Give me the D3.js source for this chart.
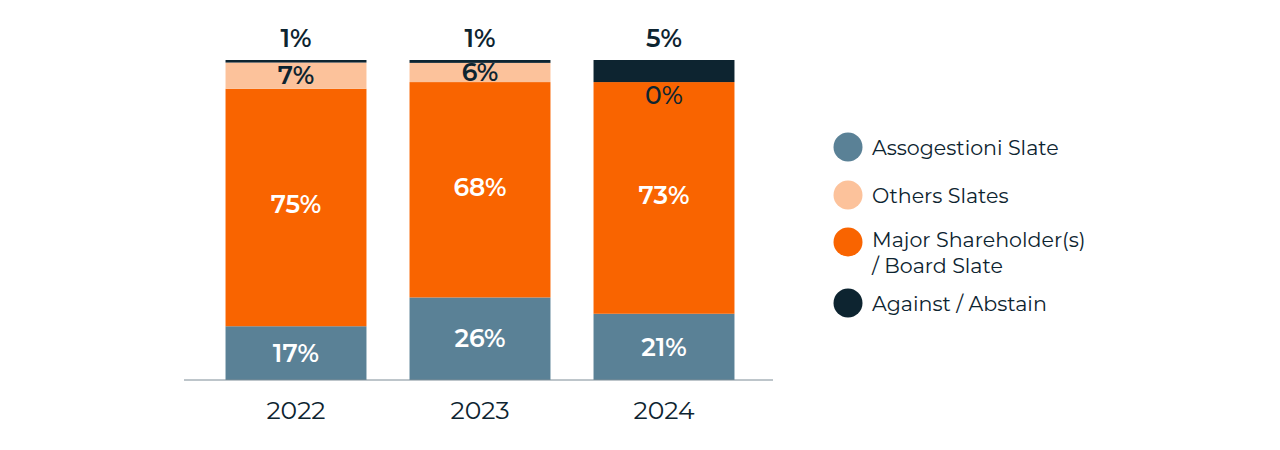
<!DOCTYPE html>
<html><head><meta charset="utf-8">
<script src="https://cdn.jsdelivr.net/npm/d3@7"></script>
<style>
html,body{margin:0;padding:0;background:#fff;}
svg{display:block;font-family:"Montserrat","Open Sans","Noto Sans",sans-serif;}
</style></head>
<body>
<svg id="chart" width="1280" height="450"></svg>
<script>
const years = ["2022", "2023", "2024"];
const seriesNames = ["Assogestioni Slate", "Major Shareholder(s) / Board Slate", "Others Slates", "Against / Abstain"];
const legendOrder = ["Assogestioni Slate", "Others Slates", "Major Shareholder(s) / Board Slate", "Against / Abstain"];
const legendLines = [["Assogestioni Slate"], ["Others Slates"], ["Major Shareholder(s)", "/ Board Slate"], ["Against / Abstain"]];
// bar sizes (share of 100)
const assogestioni = [16.8, 25.8, 20.7];
const majorBoard = [74.2, 67.3, 72.4];
const others = [8.2, 6.0, 0.0];
const against = [0.8, 0.9, 6.9];
// printed labels
const assogestioniLabels = ["17%", "26%", "21%"];
const majorBoardLabels = ["75%", "68%", "73%"];
const othersLabels = ["7%", "6%", "0%"];
const againstLabels = ["1%", "1%", "5%"];

const colors = {
  "Assogestioni Slate": "#5a8196",
  "Others Slates": "#fcc29b",
  "Major Shareholder(s) / Board Slate": "#f96400",
  "Against / Abstain": "#0d2430"
};
const dark = "#0d2430";

const rows = years.map((y, i) => ({
  year: y,
  "Assogestioni Slate": assogestioni[i],
  "Major Shareholder(s) / Board Slate": majorBoard[i],
  "Others Slates": others[i],
  "Against / Abstain": against[i]
}));
const labelMap = {
  "Assogestioni Slate": assogestioniLabels,
  "Major Shareholder(s) / Board Slate": majorBoardLabels,
  "Others Slates": othersLabels,
  "Against / Abstain": againstLabels
};

const svg = d3.select("#chart");
const x = d3.scaleBand().domain(years).range([204, 756]).paddingInner(0.234).paddingOuter(0.117);
const y = d3.scaleLinear().domain([0, 100]).range([380, 60]);

const stack = d3.stack().keys(seriesNames);
const series = stack(rows);

const g = svg.append("g");
series.forEach(s => {
  g.selectAll(null).data(s).enter().append("rect")
    .attr("x", d => x(d.data.year))
    .attr("width", x.bandwidth())
    .attr("y", d => y(d[1]))
    .attr("height", d => Math.max(0, y(d[0]) - y(d[1])))
    .attr("fill", colors[s.key]);
});

// baseline
svg.append("line")
  .attr("x1", x.range()[0] - 20).attr("x2", x.range()[1] + 17)
  .attr("y1", y(0)).attr("y2", y(0))
  .attr("stroke", "#7d8c96").attr("stroke-width", 1);

// year labels
svg.selectAll(".yr").data(years).enter().append("text")
  .attr("x", d => x(d) + x.bandwidth() / 2)
  .attr("y", 419)
  .attr("text-anchor", "middle")
  .attr("font-size", 25)
  .attr("font-weight", 400)
  .attr("fill", dark)
  .text(d => d);

// segment labels
series.forEach(s => {
  const labs = labelMap[s.key];
  s.forEach((d, i) => {
    let cy, fill, fs = 25;
    if (s.key === "Against / Abstain") {
      cy = 38; fill = dark;
    } else if (s.key === "Others Slates") {
      fill = dark;
      cy = (d[1] - d[0]) < 1 ? y(d[0]) + 13 : (y(d[0]) + y(d[1])) / 2;
    } else {
      fill = "#ffffff";
      cy = (y(d[0]) + y(d[1])) / 2 - (s.key === "Major Shareholder(s) / Board Slate" ? 3 : 0);
    }
    svg.append("text")
      .attr("x", x(d.data.year) + x.bandwidth() / 2)
      .attr("y", cy)
      .attr("dy", "0.35em")
      .attr("text-anchor", "middle")
      .attr("font-size", fs)
      .attr("font-weight", s.key === "Others Slates" && (d[1]-d[0]) < 1 ? 500 : 600)
      .attr("fill", fill)
      .text(labs[i]);
  });
});

// legend
const legendY = [147, 195, 242, 303];
const lg = svg.append("g");
legendOrder.forEach((k, i) => {
  lg.append("circle").attr("cx", 848).attr("cy", legendY[i]).attr("r", 14.5).attr("fill", colors[k]);
  const lines = legendLines[i];
  const t = lg.append("text")
    .attr("x", 872)
    .attr("y", lines.length > 1 ? legendY[i] - 2 : legendY[i] + 1)
    .attr("font-size", 20.6)
    .attr("fill", dark);
  lines.forEach((ln, j) => {
    t.append("tspan").attr("x", 872).attr("dy", j === 0 ? "0.35em" : "1.27em").text(ln);
  });
});
</script>
</body></html>
